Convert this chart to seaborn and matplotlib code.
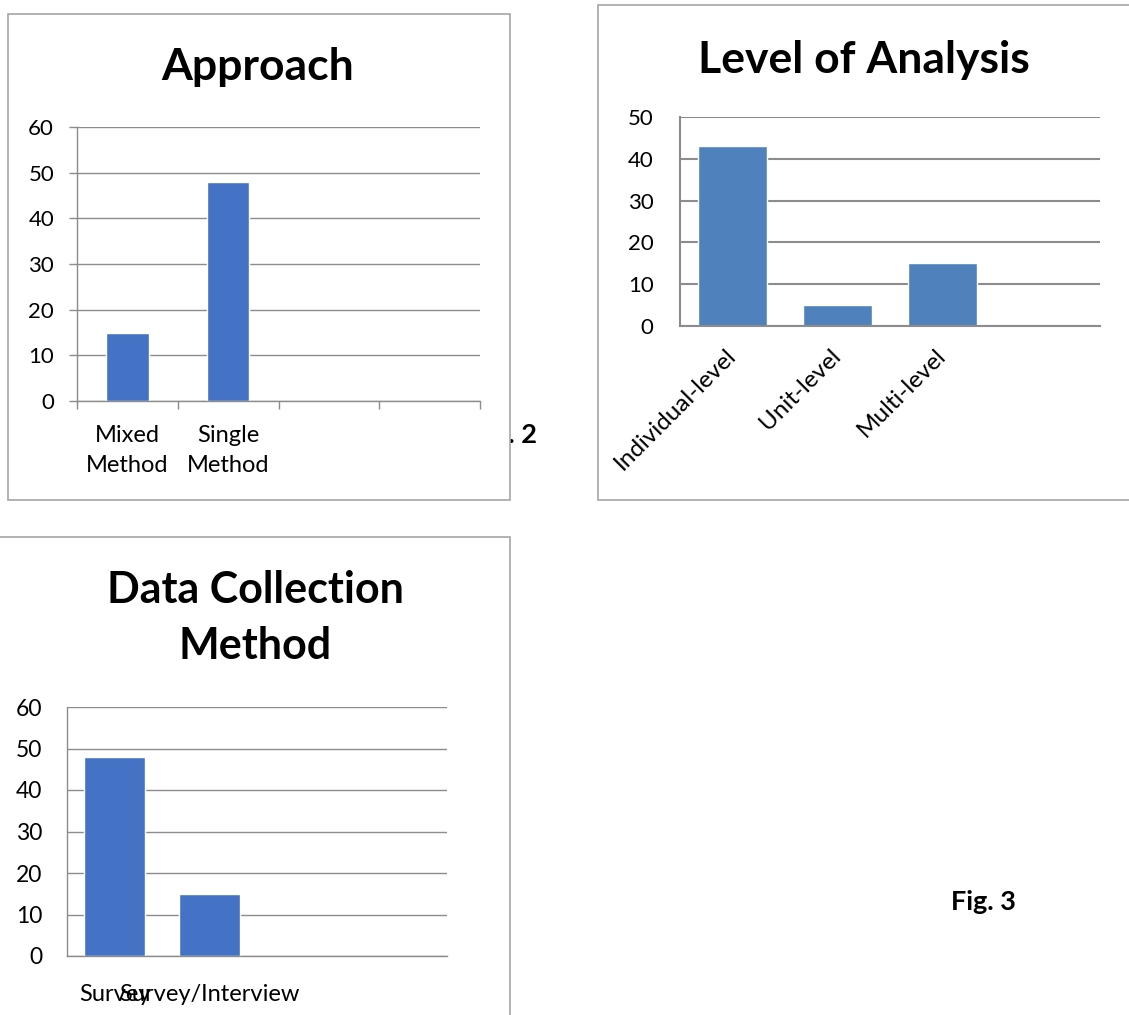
import pandas as pd
import matplotlib.pyplot as plt
import seaborn as sns
from matplotlib.patches import Rectangle

# data
approach_cats = ['Mixed\nMethod', 'Single\nMethod']
approach_vals = [15, 48]

level_cats = ['Individual-level', 'Unit-level', 'Multi-level']
level_vals = [43, 5, 15]

collect_cats = ['Survey', 'Survey/Interview']
collect_vals = [48, 15]

sns.set_theme(style='white')
plt.rcParams['font.family'] = ['Lato', 'DejaVu Sans']

W, H = 1129, 1015
fig = plt.figure(figsize=(W / 100, H / 100), dpi=100)


def box(x0, y0, x1, y1):
    # pixel box -> figure fraction [left, bottom, width, height]
    return [x0 / W, 1 - y1 / H, (x1 - x0) / W, (y1 - y0) / H]


def frame(x0, y0, x1, y1):
    l, b, w, h = box(x0, y0, x1, y1)
    fig.patches.append(Rectangle((l, b), w, h, transform=fig.transFigure,
                                 facecolor='white', edgecolor='#A6A6A6',
                                 linewidth=1.2, zorder=-1))


GRID = '#8C8C8C'

# figure captions that sit partly behind the chart frames
fig.text(537 / W, 1 - 443 / H, 'Fig. 2', ha='right', va='baseline',
         fontsize=19.5, fontweight='bold', color='black', zorder=-2)
fig.text(983 / W, 1 - 910 / H, 'Fig. 3', ha='center', va='baseline',
         fontsize=19.5, fontweight='bold', color='black')

frame(8, 14, 510, 500)
frame(598, 5, 1140, 500)
frame(-5, 537, 510, 1030)

# ---- Approach
ax1 = fig.add_axes(box(77, 127, 480, 401))
df1 = pd.DataFrame({'cat': approach_cats, 'val': approach_vals})
sns.barplot(data=df1, x='cat', y='val', ax=ax1, color='#4472C4',
            width=0.42, saturation=1)
ax1.set_xlim(-0.5, 3.5)
ax1.set_ylim(0, 60)
ax1.set_yticks(range(0, 61, 10))
ax1.set_xticks([-0.5, 0.5, 1.5, 2.5, 3.5], minor=True)
ax1.tick_params(axis='x', which='minor', bottom=True, length=5.5, color=GRID, width=1)
ax1.tick_params(axis='x', which='major', length=0, pad=17, labelsize=17, labelcolor='black')
ax1.tick_params(axis='y', left=True, length=5.5, color=GRID, width=1, pad=11,
                labelsize=16, labelcolor='black')
for lab in ax1.get_xticklabels():
    lab.set_linespacing(1.55)

# ---- Level of Analysis
ax2 = fig.add_axes(box(680, 117, 1100, 326))
df2 = pd.DataFrame({'cat': level_cats, 'val': level_vals})
sns.barplot(data=df2, x='cat', y='val', ax=ax2, color='#4F81BD',
            width=0.65, saturation=1)
ax2.set_xlim(-0.5, 3.5)
ax2.set_ylim(0, 50)
ax2.set_yticks(range(0, 51, 10))
ax2.tick_params(axis='x', length=0, pad=19, labelsize=17.5, labelcolor='black')
ax2.tick_params(axis='y', length=0, pad=19, labelsize=16, labelcolor='black')
for lab in ax2.get_xticklabels():
    lab.set_rotation(45)
    lab.set_ha('right')
    lab.set_va('center')
    lab.set_rotation_mode('anchor')

# ---- Data Collection Method
ax3 = fig.add_axes(box(67, 707, 447, 956))
df3 = pd.DataFrame({'cat': collect_cats, 'val': collect_vals})
sns.barplot(data=df3, x='cat', y='val', ax=ax3, color='#4472C4',
            width=0.64, saturation=1)
ax3.set_xlim(-0.5, 3.5)
ax3.set_ylim(0, 60)
ax3.set_yticks(range(0, 61, 10))
ax3.tick_params(axis='x', length=0, pad=20, labelsize=17, labelcolor='black')
ax3.tick_params(axis='y', length=0, pad=18, labelsize=16.5, labelcolor='black')

for ax, gw in [(ax1, 1), (ax2, 1.5), (ax3, 1)]:
    ax.set_xlabel('')
    ax.set_ylabel('')
    ax.yaxis.grid(True, color=GRID, linewidth=gw)
    ax.set_axisbelow(True)
    ax.set_facecolor('none')
    ax.spines[['top', 'right']].set_visible(False)
    for s in ['left', 'bottom']:
        ax.spines[s].set_color(GRID)
        ax.spines[s].set_linewidth(gw)

# titles
fig.text(258 / W, 1 - 80 / H, 'Approach', ha='center', va='baseline',
         fontsize=32, fontweight='bold', color='black')
fig.text(864 / W, 1 - 73 / H, 'Level of Analysis', ha='center', va='baseline',
         fontsize=32, fontweight='bold', color='black')
fig.text(255 / W, 1 - 618 / H, 'Data Collection\nMethod', ha='center', va='center',
         fontsize=31, fontweight='bold', color='black', linespacing=1.5)

fig.savefig('out.png', dpi=100)
